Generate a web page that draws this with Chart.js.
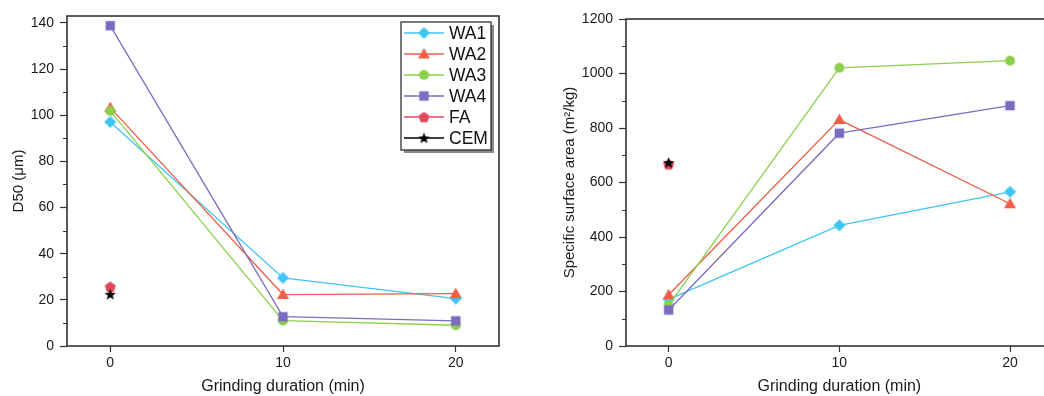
<!DOCTYPE html>
<html><head><meta charset="utf-8">
<script src="https://cdn.jsdelivr.net/npm/chart.js@4.4.1/dist/chart.umd.min.js"></script>
<style>
html,body{margin:0;padding:0;background:#fff;overflow:hidden;width:1044px;height:396px;position:relative;}
#c1{position:absolute;left:0;top:0;}
#c2{position:absolute;left:520px;top:0;}
</style></head><body>
<canvas id="c1" width="520" height="396"></canvas>
<canvas id="c2" width="540" height="396"></canvas>
<script>
// ---- data ----
const durations = [0, 10, 20];
const xTicks = [0, 10, 20];
const seriesNames = ['WA1', 'WA2', 'WA3', 'WA4', 'FA', 'CEM'];
const d50WA1 = [97.1, 29.5, 20.5];
const d50WA2 = [103.3, 22.3, 22.7];
const d50WA3 = [101.9, 11.0, 9.0];
const d50WA4 = [138.8, 12.7, 10.9];
const d50FA = [25.7];
const d50CEM = [22.4];
const d50Ticks = [0, 20, 40, 60, 80, 100, 120, 140];
const d50Minor = [10, 30, 50, 70, 90, 110, 130];
const ssaWA1 = [171, 443, 566];
const ssaWA2 = [188, 831, 522];
const ssaWA3 = [150, 1021, 1047];
const ssaWA4 = [132, 781, 882];
const ssaFA = [667];
const ssaCEM = [673];
const ssaTicks = [0, 200, 400, 600, 800, 1000, 1200];
const ssaMinor = [100, 300, 500, 700, 900, 1100];

// ---- styles ----
const colors = ['#3ec6f3', '#ef5e47', '#8dce4c', '#7b6cc2', '#e1495f', '#000000'];
const shapes = ['diamond', 'triangle', 'circle', 'square', 'pentagon', 'star'];
const FONT = "'Liberation Sans', Arial, sans-serif";
Chart.defaults.font.family = FONT;
Chart.defaults.color = '#1a1a1a';

function makeMarker(shape, color) {
  const c = document.createElement('canvas');
  c.width = 15; c.height = 15;
  const g = c.getContext('2d');
  const cx = 7.5, cy = 7.5;
  g.fillStyle = color;
  g.beginPath();
  if (shape === 'diamond') {
    const r = 6;
    g.moveTo(cx, cy - r); g.lineTo(cx + r, cy); g.lineTo(cx, cy + r); g.lineTo(cx - r, cy);
  } else if (shape === 'triangle') {
    g.moveTo(cx, cy - 6); g.lineTo(cx + 6, cy + 4.5); g.lineTo(cx - 6, cy + 4.5);
  } else if (shape === 'circle') {
    g.arc(cx, cy, 5, 0, Math.PI * 2);
  } else if (shape === 'square') {
    g.rect(cx - 4.7, cy - 4.7, 9.4, 9.4);
  } else if (shape === 'pentagon') {
    const r = 5.8;
    for (let i = 0; i < 5; i++) {
      const a = -Math.PI / 2 + i * 2 * Math.PI / 5;
      const px = cx + r * Math.cos(a), py = cy + 0.5 + r * Math.sin(a);
      if (i === 0) g.moveTo(px, py); else g.lineTo(px, py);
    }
  } else if (shape === 'star') {
    const ro = 6, ri = 2.6;
    for (let i = 0; i < 10; i++) {
      const a = -Math.PI / 2 + i * Math.PI / 5;
      const r = i % 2 === 0 ? ro : ri;
      const px = cx + r * Math.cos(a), py = cy + 0.5 + r * Math.sin(a);
      if (i === 0) g.moveTo(px, py); else g.lineTo(px, py);
    }
  }
  g.closePath();
  g.fill();
  return c;
}
const markers = shapes.map((s, i) => makeMarker(s, colors[i]));

function toPts(xs, ys) { return ys.map((v, i) => ({ x: xs[i], y: v })); }

function buildDatasets(series) {
  return series.map((ys, i) => ({
    label: seriesNames[i],
    data: toPts(durations, ys),
    borderColor: colors[i],
    backgroundColor: colors[i],
    borderWidth: 1.3,
    pointStyle: markers[i],
    pointRadius: 6,
    showLine: ys.length > 1,
    order: 10 - i,
    tension: 0
  }));
}

const framePlugin = {
  id: 'frame',
  afterDraw(chart, args, opts) {
    const { ctx, chartArea: a } = chart;
    const y = chart.scales.y;
    ctx.save();
    ctx.strokeStyle = '#333';
    ctx.lineWidth = 1.6;
    ctx.strokeRect(a.left, a.top, a.right - a.left, a.bottom - a.top);
    ctx.lineWidth = 1;
    ctx.beginPath();
    for (const v of opts.minor) {
      const py = Math.round(y.getPixelForValue(v)) + 0.5;
      ctx.moveTo(a.left - 4, py); ctx.lineTo(a.left, py);
    }
    ctx.stroke();
    ctx.restore();
  }
};

const legendPlugin = {
  id: 'boxLegend',
  afterDraw(chart, args, opts) {
    if (!opts.show) return;
    const ctx = chart.ctx;
    const L = 401, T = 22, W = 90, H = 128;
    ctx.save();
    ctx.fillStyle = '#8a8a8a';
    ctx.fillRect(L + 3, T + 3, W, H);
    ctx.fillStyle = '#fff';
    ctx.fillRect(L, T, W, H);
    ctx.strokeStyle = '#222';
    ctx.lineWidth = 1.2;
    ctx.strokeRect(L, T, W, H);
    ctx.font = "17.5px " + FONT;
    ctx.textBaseline = 'middle';
    chart.data.datasets.forEach((ds, i) => {
      const yy = 33 + i * 21;
      ctx.strokeStyle = ds.borderColor;
      ctx.lineWidth = 1.3;
      ctx.beginPath(); ctx.moveTo(404, yy); ctx.lineTo(444, yy); ctx.stroke();
      const m = ds.pointStyle;
      ctx.drawImage(m, 424 - m.width / 2, yy - m.height / 2);
      ctx.fillStyle = '#111';
      ctx.fillText(ds.label, 449, yy + 1);
    });
    ctx.restore();
  }
};

function makeChart(id, series, yMax, yTicks, yMinor, yTitle, yTitlePad, yAxisW, pad, showLegend) {
  return new Chart(document.getElementById(id), {
    type: 'line',
    data: { datasets: buildDatasets(series) },
    options: {
      responsive: false,
      animation: false,
      layout: { padding: pad },
      plugins: {
        legend: { display: false },
        tooltip: { enabled: false },
        frame: { minor: yMinor },
        boxLegend: { show: showLegend }
      },
      scales: {
        x: {
          type: 'linear', min: -2.5, max: 22.5,
          afterBuildTicks: s => { s.ticks = xTicks.map(v => ({ value: v })); },
          afterFit: s => { s.height = 50; },
          border: { display: false },
          grid: { drawOnChartArea: false, drawTicks: true, tickLength: 6, tickColor: '#333', tickWidth: 1.2 },
          ticks: { padding: 3, font: { size: 14 }, color: '#1a1a1a', maxRotation: 0, callback: v => String(v) },
          title: { display: true, text: 'Grinding duration (min)', font: { size: 16 }, color: '#1a1a1a', padding: { top: 0, bottom: 0 } }
        },
        y: {
          type: 'linear', min: 0, max: yMax,
          afterBuildTicks: s => { s.ticks = yTicks.map(v => ({ value: v })); },
          afterFit: s => { s.width = yAxisW; },
          border: { display: false },
          grid: { drawOnChartArea: false, drawTicks: true, tickLength: 7, tickColor: '#333', tickWidth: 1.2 },
          ticks: { padding: 6, font: { size: 14 }, color: '#1a1a1a', callback: v => String(v) },
          title: { display: true, text: yTitle, font: { size: 15 }, color: '#1a1a1a', padding: { top: yTitlePad, bottom: 0 } }
        }
      }
    },
    plugins: [framePlugin, legendPlugin]
  });
}

makeChart('c1', [d50WA1, d50WA2, d50WA3, d50WA4, d50FA, d50CEM], 143, d50Ticks, d50Minor,
  'D50 (μm)', 10, 67, { top: 16, right: 21, bottom: 0, left: 0 }, true);
makeChart('c2', [ssaWA1, ssaWA2, ssaWA3, ssaWA4, ssaFA, ssaCEM], 1200, ssaTicks, ssaMinor,
  'Specific surface area (m²/kg)', 41, 106, { top: 19, right: 4, bottom: 0, left: 0 }, false);
</script>
</body></html>
